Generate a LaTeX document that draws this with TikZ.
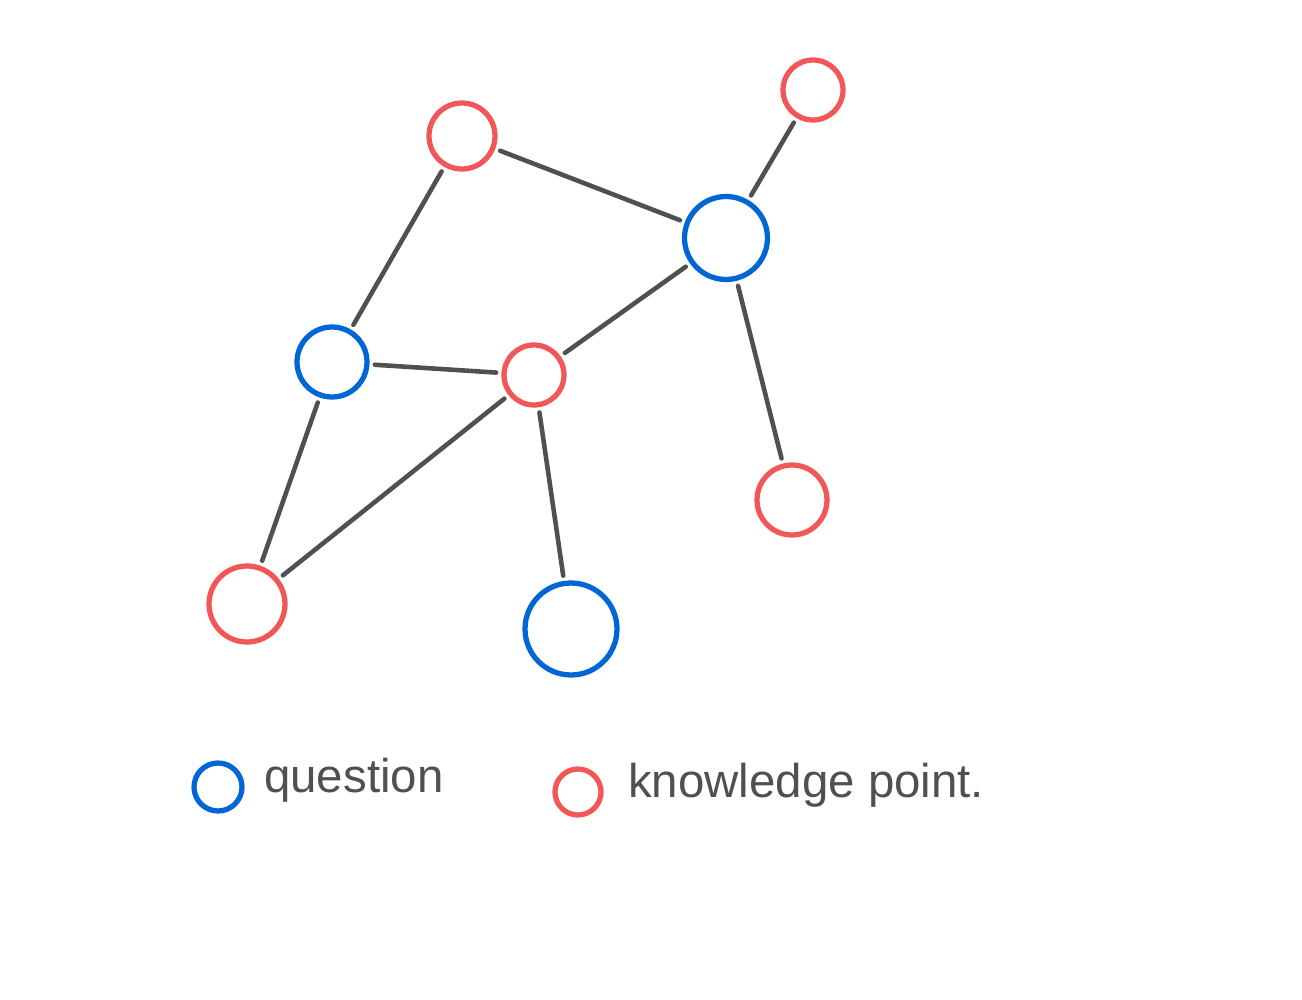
\documentclass[tikz,border=0pt]{standalone}
\usepackage{fontspec}
\setmainfont{Liberation Sans}
\definecolor{qblue}{HTML}{0066D6}
\definecolor{kred}{HTML}{F25757}
\definecolor{edgegray}{HTML}{505050}
\begin{document}
\begin{tikzpicture}[x=0.02cm, y=-0.02cm,
    question/.style={circle, draw=qblue, line width=3pt, inner sep=0pt},
    knowledge/.style={circle, draw=kred, line width=3pt, inner sep=0pt},
    edge/.style={draw=edgegray, line width=2.6pt, line cap=round, shorten <=3pt, shorten >=3pt},
    legendtext/.style={anchor=west, text=edgegray, font=\fontsize{27}{32}\selectfont}]
      \useasboundingbox (0, 0) rectangle (1302, 1000);
      % graph
      \node[knowledge, minimum size=1.32cm] (k1) at (462, 136) {};
      \node[knowledge, minimum size=1.20cm] (k2) at (813, 90) {};
      \node[question, minimum size=1.66cm] (q1) at (726, 238) {};
      \node[question, minimum size=1.40cm] (q2) at (332, 362) {};
      \node[knowledge, minimum size=1.20cm] (k3) at (534, 375) {};
      \node[knowledge, minimum size=1.40cm] (k4) at (792, 500) {};
      \node[knowledge, minimum size=1.52cm] (k5) at (247, 604) {};
      \node[question, minimum size=1.84cm] (q3) at (571, 629) {};
      \foreach \a/\b in {k1/q1, k1/q2, k2/q1, q1/k3, q1/k4, q2/k3, q2/k5, k3/k5, k3/q3}
        \draw[edge] (\a) -- (\b);
      % legend
      \node[question, minimum size=0.96cm] (lq) at (218, 787) {};
      \node[legendtext] (lqt) at (258, 780) {question};
      \node[knowledge, minimum size=0.92cm] (lk) at (578, 792) {};
      \node[legendtext] (lkt) at (622, 785) {knowledge point.};
\end{tikzpicture}
\end{document}
